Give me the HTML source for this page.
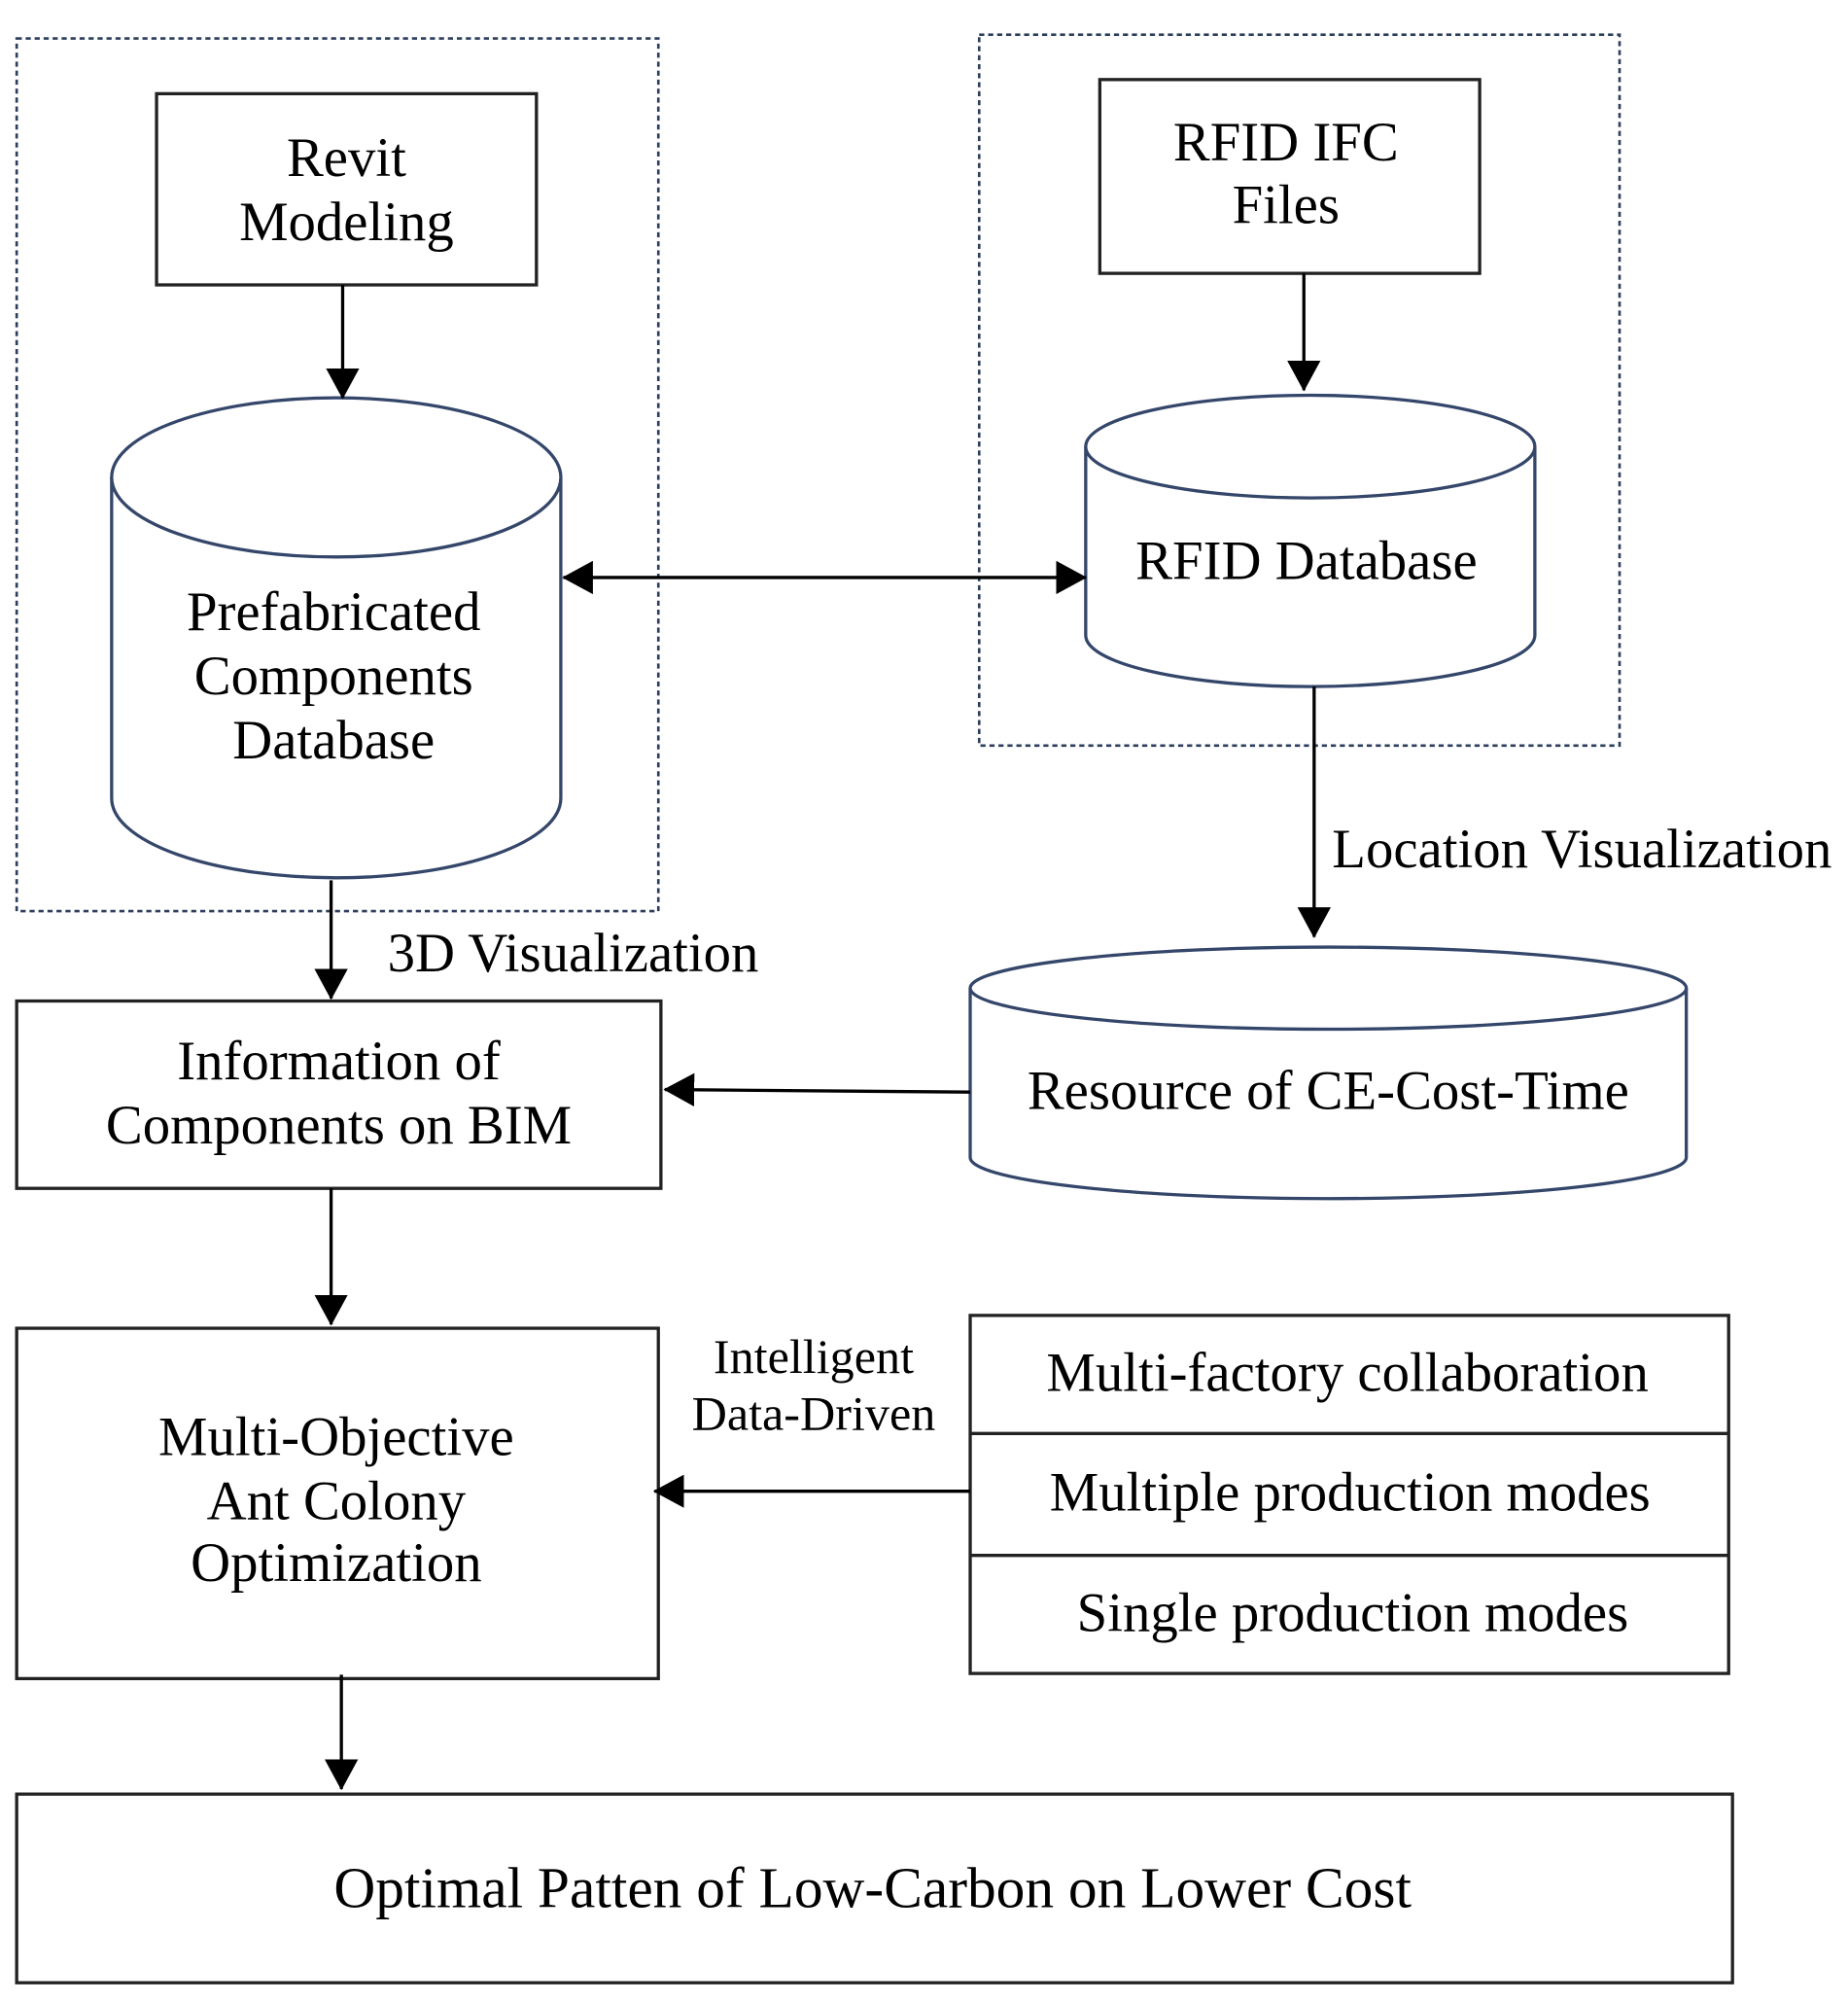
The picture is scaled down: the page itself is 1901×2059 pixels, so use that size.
<!DOCTYPE html>
<html><head><meta charset="utf-8"><style>
html,body{margin:0;padding:0;background:#fff;}
svg{display:block;}
text{font-family:"Liberation Serif",serif;font-size:43px;fill:#000;text-anchor:middle;}
</style></head><body>
<svg width="1901" height="2059" viewBox="0 0 1440 1560" preserveAspectRatio="none" xmlns="http://www.w3.org/2000/svg">
<defs>
<marker id="ah" markerWidth="24" markerHeight="26" refX="23" refY="13" orient="auto" markerUnits="userSpaceOnUse"><path d="M0,0 L24,13 L0,26 z" fill="#000"/></marker>
<marker id="as" markerWidth="24" markerHeight="26" refX="1" refY="13" orient="auto" markerUnits="userSpaceOnUse"><path d="M24,0 L0,13 L24,26 z" fill="#000"/></marker>
</defs>
<g fill="none" stroke="#2c3e5c" stroke-width="2" stroke-dasharray="4,3">
<rect x="13" y="30" width="500" height="680"/>
<rect x="763" y="27" width="499" height="554"/>
</g>
<g fill="#fff" stroke="#222" stroke-width="2.5">
<rect x="122" y="73" width="296" height="149"/>
<rect x="857" y="62" width="296" height="151"/>
<rect x="13" y="780" width="502" height="146"/>
<rect x="13" y="1035" width="500" height="273"/>
<rect x="756" y="1025" width="591" height="279"/>
<line x1="756" y1="1117" x2="1347" y2="1117"/>
<line x1="756" y1="1212" x2="1347" y2="1212"/>
<rect x="13" y="1398" width="1337" height="147"/>
</g>
<g fill="#fff" stroke="#34466a" stroke-width="2.5">
<path d="M87,372 L87,622 A175,62 0 0 0 437,622 L437,372"/>
<ellipse cx="262" cy="372" rx="175" ry="62"/>
<path d="M846,348 L846,495 A175,40 0 0 0 1196,495 L1196,348"/>
<ellipse cx="1021" cy="348" rx="175" ry="40"/>
<path d="M756,770 L756,902 A279,32 0 0 0 1314,902 L1314,770"/>
<ellipse cx="1035" cy="770" rx="279" ry="32"/>
</g>
<g stroke="#000" stroke-width="2.5" fill="none">
<line x1="267" y1="222" x2="267" y2="310" marker-end="url(#ah)"/>
<line x1="1016" y1="213" x2="1016" y2="304" marker-end="url(#ah)"/>
<line x1="439" y1="450" x2="846" y2="450" marker-start="url(#as)" marker-end="url(#ah)"/>
<line x1="1024" y1="535" x2="1024" y2="730" marker-end="url(#ah)"/>
<line x1="258" y1="686" x2="258" y2="778" marker-end="url(#ah)"/>
<line x1="756" y1="851" x2="518" y2="849" marker-end="url(#ah)"/>
<line x1="258" y1="926" x2="258" y2="1032" marker-end="url(#ah)"/>
<line x1="756" y1="1162" x2="510" y2="1162" marker-end="url(#ah)"/>
<line x1="266" y1="1305" x2="266" y2="1394" marker-end="url(#ah)"/>
</g>
<text x="270" y="137">Revit</text>
<text x="270" y="187">Modeling</text>
<text x="1002" y="125">RFID IFC</text>
<text x="1002" y="174">Files</text>
<text x="260" y="491">Prefabricated</text>
<text x="260" y="541">Components</text>
<text x="260" y="591">Database</text>
<text x="1018" y="451">RFID Database</text>
<text x="1038" y="676" style="text-anchor:start">Location Visualization</text>
<text x="302" y="757" style="text-anchor:start">3D Visualization</text>
<text x="264" y="841">Information of</text>
<text x="264" y="891">Components on BIM</text>
<text x="1035" y="864">Resource of CE-Cost-Time</text>
<text x="262" y="1134">Multi-Objective</text>
<text x="262" y="1184">Ant Colony</text>
<text x="262" y="1232">Optimization</text>
<text x="634" y="1070" style="font-size:38px">Intelligent</text>
<text x="634" y="1114" style="font-size:38px">Data-Driven</text>
<text x="1050" y="1084">Multi-factory collaboration</text>
<text x="1052" y="1177">Multiple production modes</text>
<text x="1054" y="1271">Single production modes</text>
<text x="680" y="1486" style="font-size:45px">Optimal Patten of Low-Carbon on Lower Cost</text>
</svg>
</body></html>
